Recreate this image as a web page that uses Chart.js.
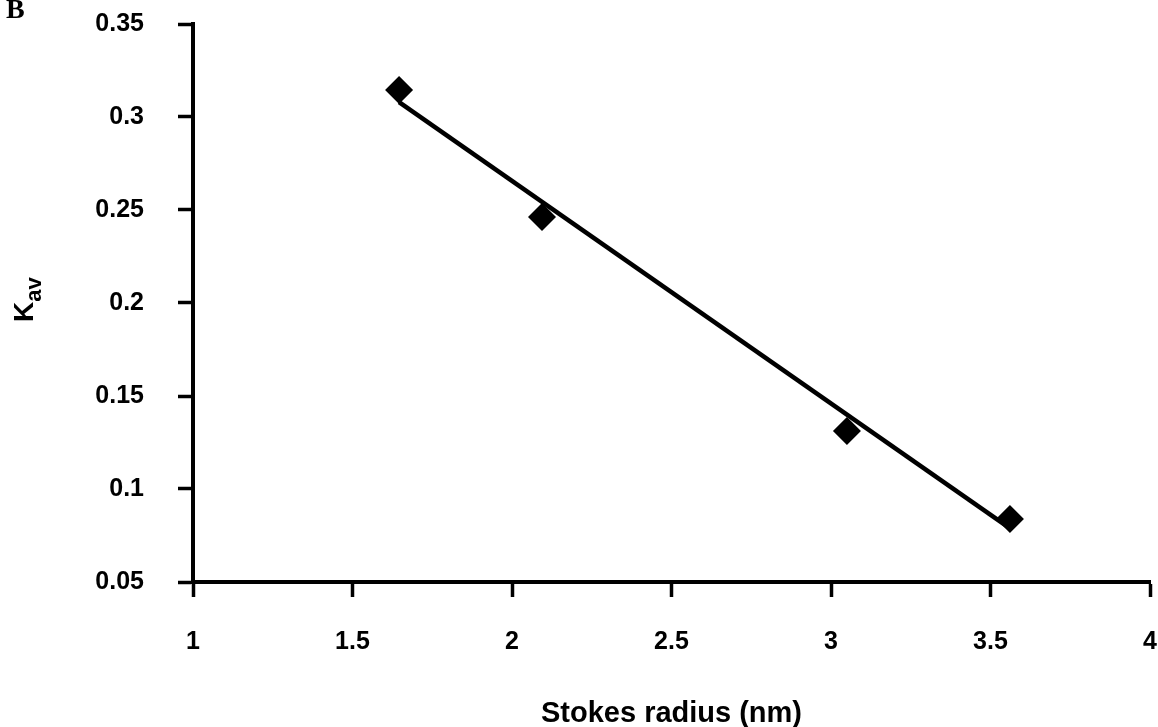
<!doctype html>
<html>
<head>
<meta charset="utf-8" />
<title>Kav vs Stokes radius</title>
<script src="https://cdn.jsdelivr.net/npm/chart.js"></script>
<style>html,body{margin:0;padding:0;background:#fff}canvas{display:block}</style>
</head>
<body>
<canvas id="chart" width="1158" height="727"></canvas>
<script>
// values
const stokesRadius = [1.646, 2.094, 3.05, 3.561];
const kav = [0.3145, 0.2462, 0.1312, 0.0839];
// fitted line end points, as drawn
const fitX = [1.646, 3.56];
const fitY = [0.308, 0.079];

const xTicks = [1, 1.5, 2, 2.5, 3, 3.5, 4];
const xTickLabels = ['1', '1.5', '2', '2.5', '3', '3.5', '4'];
const yTicks = [0.05, 0.1, 0.15, 0.2, 0.25, 0.3, 0.35];
const yTickLabels = ['0.05', '0.1', '0.15', '0.2', '0.25', '0.3', '0.35'];

const FONT = 'Liberation Sans, Arial, Helvetica, sans-serif';

// panel letter + K_av axis title (needs a subscript, so drawn by hand)
const extraText = {
  id: 'extraText',
  afterDraw(chart) {
    const ctx = chart.ctx;
    ctx.save();
    ctx.fillStyle = '#000';
    ctx.textBaseline = 'alphabetic';
    ctx.font = 'bold 28px "Liberation Serif", "Times New Roman", serif';
    ctx.fillText('B', 6, 18);

    ctx.translate(33, 322);
    ctx.rotate(-Math.PI / 2);
    ctx.font = 'bold 28px ' + FONT;
    ctx.fillText('K', 0, 0);
    const kw = ctx.measureText('K').width;
    ctx.font = 'bold 22px ' + FONT;
    ctx.fillText('av', kw, 8);
    ctx.restore();
  }
};

const tickFont = { family: FONT, size: 25, weight: 'bold' };

new Chart(document.getElementById('chart').getContext('2d'), {
  type: 'scatter',
  data: {
    datasets: [
      {
        data: stokesRadius.map((x, i) => ({ x, y: kav[i] })),
        pointStyle: 'rectRot',
        pointRadius: 14,
        backgroundColor: '#000',
        borderColor: '#000',
        borderWidth: 0,
        order: 2
      },
      {
        type: 'line',
        data: fitX.map((x, i) => ({ x, y: fitY[i] })),
        borderColor: '#000',
        borderWidth: 4.5,
        pointRadius: 0,
        fill: false,
        order: 1
      }
    ]
  },
  options: {
    responsive: false,
    devicePixelRatio: 1,
    animation: false,
    layout: { padding: 0, autoPadding: false },
    plugins: { legend: { display: false }, tooltip: { enabled: false } },
    scales: {
      x: {
        type: 'linear',
        min: 1,
        max: 4,
        afterBuildTicks: (s) => { s.ticks = xTicks.map((v) => ({ value: v })); },
        afterFit: (s) => {
          s.height = 145;
          s.paddingLeft = 0;
          s.paddingRight = 8;
        },
        ticks: {
          callback: (v, i) => xTickLabels[i],
          font: tickFont,
          color: '#000',
          padding: 30,
          maxRotation: 0,
          autoSkip: false
        },
        grid: { drawOnChartArea: false, drawTicks: true, tickLength: 15, tickWidth: 3.5, tickColor: '#000' },
        border: { color: '#000', width: 4 },
        title: {
          display: true,
          text: 'Stokes radius (nm)',
          color: '#000',
          font: { family: FONT, size: 29, weight: 'bold' },
          padding: { top: 0, bottom: -4 }
        }
      },
      y: {
        type: 'linear',
        min: 0.05,
        max: 0.35,
        afterBuildTicks: (s) => { s.ticks = yTicks.map((v) => ({ value: v })); },
        afterFit: (s) => {
          s.width = 193;
          s.paddingTop = 24;
          s.paddingBottom = 0;
        },
        ticks: {
          callback: (v, i) => yTickLabels[i],
          font: tickFont,
          color: '#000',
          padding: 34,
          autoSkip: false
        },
        grid: { drawOnChartArea: false, drawTicks: true, tickLength: 15, tickWidth: 3.5, tickColor: '#000' },
        border: { color: '#000', width: 4 }
      }
    }
  },
  plugins: [extraText]
});
</script>
</body>
</html>
